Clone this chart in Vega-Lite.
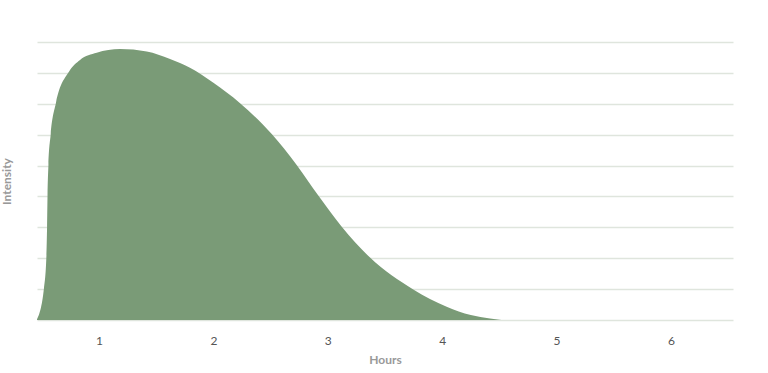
{
  "$schema": "https://vega.github.io/schema/vega-lite/v6.json",
  "autosize": "none",
  "width": 696,
  "height": 278,
  "padding": {"left": 37, "top": 42, "right": 35, "bottom": 53},
  "background": "white",
  "config": {"view": {"stroke": null}, "font": "Lato"},
  "data": {"values": [
    {"hours": 0.455, "intensity": 0},
    {"hours": 0.519, "intensity": 1.03},
    {"hours": 0.54, "intensity": 2.05},
    {"hours": 0.546, "intensity": 3.02},
    {"hours": 0.55, "intensity": 4.02},
    {"hours": 0.558, "intensity": 5.02},
    {"hours": 0.578, "intensity": 6.01},
    {"hours": 0.624, "intensity": 7.03},
    {"hours": 0.74, "intensity": 8.05},
    {"hours": 0.834, "intensity": 8.42},
    {"hours": 0.98, "intensity": 8.65},
    {"hours": 1.184, "intensity": 8.77},
    {"hours": 1.417, "intensity": 8.69},
    {"hours": 1.621, "intensity": 8.45},
    {"hours": 1.795, "intensity": 8.17},
    {"hours": 2.0, "intensity": 7.68},
    {"hours": 2.233, "intensity": 7.02},
    {"hours": 2.51, "intensity": 6.02},
    {"hours": 2.728, "intensity": 5.02},
    {"hours": 2.917, "intensity": 4.03},
    {"hours": 3.122, "intensity": 3.02},
    {"hours": 3.369, "intensity": 2.02},
    {"hours": 3.747, "intensity": 0.99},
    {"hours": 4.039, "intensity": 0.43},
    {"hours": 4.25, "intensity": 0.16},
    {"hours": 4.418, "intensity": 0.05},
    {"hours": 4.55, "intensity": 0.0},
    {"hours": 5.5, "intensity": 0},
    {"hours": 6.54, "intensity": 0}
  ]},
  "mark": {"type": "area", "interpolate": "monotone", "color": "#7a9b77", "clip": true},
  "encoding": {
    "x": {
      "field": "hours", "type": "quantitative",
      "scale": {"domain": [0.458, 6.542], "nice": false, "zero": false},
      "axis": {
        "values": [1, 2, 3, 4, 5, 6], "title": "Hours", "grid": false,
        "domain": false, "ticks": false, "labelPadding": 15,
        "labelFontSize": 12, "labelColor": "#555555",
        "titleFontSize": 12, "titleColor": "#999999", "titleFontWeight": "bold",
        "titlePadding": 8
      }
    },
    "y": {
      "field": "intensity", "type": "quantitative",
      "scale": {"domain": [0, 9], "nice": false},
      "axis": {
        "values": [0, 1, 2, 3, 4, 5, 6, 7, 8, 9], "title": "Intensity",
        "labels": false, "ticks": false, "domain": false,
        "gridColor": "#dfe5dd", "gridWidth": 1.5,
        "titleFontSize": 12, "titleColor": "#999999", "titleFontWeight": "bold",
        "titlePadding": 24
      }
    }
  }
}
